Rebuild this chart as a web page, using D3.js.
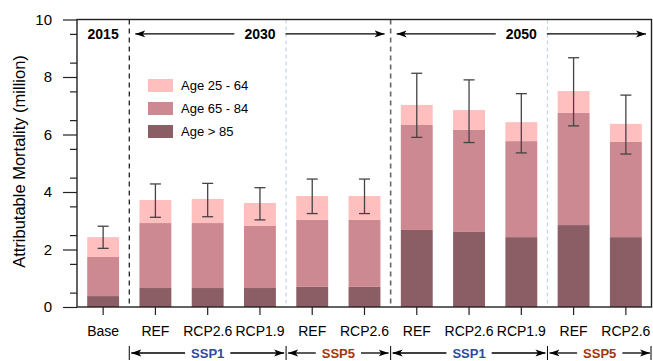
<!DOCTYPE html>
<html>
<head>
<meta charset="utf-8">
<script src="https://cdn.jsdelivr.net/npm/d3@7"></script>
<style>
  body { margin: 0; background: #fff; }
  svg { display: block; font-family: "Liberation Sans", Arial, sans-serif; }
</style>
</head>
<body>
<div id="chart"></div>
<script>
// bar labels, one per bar
let labels = ["Base", "REF", "RCP2.6", "RCP1.9", "REF", "RCP2.6", "REF", "RCP2.6", "RCP1.9", "REF", "RCP2.6"]
// stacked segments (million)
let age85 = [0.38, 0.66, 0.66, 0.66, 0.70, 0.70, 2.68, 2.61, 2.43, 2.85, 2.43]
let age65_84 = [1.36, 2.26, 2.26, 2.16, 2.33, 2.33, 3.65, 3.55, 3.34, 3.90, 3.31]
let age25_64 = [0.69, 0.80, 0.84, 0.80, 0.83, 0.83, 0.70, 0.69, 0.66, 0.76, 0.63]
// uncertainty range of the total
let errLow = [2.04, 3.12, 3.14, 3.03, 3.25, 3.25, 5.90, 5.72, 5.36, 6.30, 5.32]
let errHigh = [2.81, 4.28, 4.30, 4.15, 4.45, 4.45, 8.13, 7.90, 7.42, 8.67, 7.37]
// groups: [first bar, last bar, label]
let years = [[0, 0, "2015"], [1, 5, "2030"], [6, 10, "2050"]]
let ssps = [[1, 3, "SSP1"], [4, 5, "SSP5"], [6, 8, "SSP1"], [9, 10, "SSP5"]]
let legendNames = ["Age 25 - 64", "Age 65 - 84", "Age > 85"]

let colors = ["#8b5e66", "#cc8991", "#ffbfbf"] // >85, 65-84, 25-64
let sspColor = { "SSP1": "#2e4b9c", "SSP5": "#a0360f" }

let width = 653, height = 361
let margin = { left: 77, top: 19.5, right: 1, bottom: 54 }
let x0 = margin.left, x1 = width - margin.right
let yTop = margin.top, yBot = height - margin.bottom

let svg = d3.select("#chart").append("svg")
  .attr("width", width).attr("height", height)

let idx = d3.range(labels.length)
let x = d3.scaleBand().domain(idx).range([x0, x1]).paddingInner(0.39).paddingOuter(0.195)
let step = (x1 - x0) / labels.length
let y = d3.scaleLinear().domain([0, 10]).range([yBot, yTop])

let rows = idx.map(i => ({ i: i, a: age85[i], b: age65_84[i], c: age25_64[i] }))
let stack = d3.stack().keys(["a", "b", "c"])(rows)

// bars
svg.append("g").selectAll("g")
  .data(stack).join("g")
  .attr("fill", (d, k) => colors[k])
  .selectAll("rect")
  .data(d => d).join("rect")
  .attr("x", d => x(d.data.i))
  .attr("width", x.bandwidth())
  .attr("y", d => y(d[1]))
  .attr("height", d => y(d[0]) - y(d[1]))

// error bars
let eb = svg.append("g").attr("stroke", "#444").attr("stroke-width", 1.3)
idx.forEach(i => {
  let cx = x(i) + x.bandwidth() / 2
  eb.append("line").attr("x1", cx).attr("x2", cx).attr("y1", y(errLow[i])).attr("y2", y(errHigh[i]))
  eb.append("line").attr("x1", cx - 5.5).attr("x2", cx + 5.5).attr("y1", y(errLow[i])).attr("y2", y(errLow[i]))
  eb.append("line").attr("x1", cx - 5.5).attr("x2", cx + 5.5).attr("y1", y(errHigh[i])).attr("y2", y(errHigh[i]))
})

// divider lines
function boundary(i) { return x0 + step * i }
let dividers = [
  { at: 1, color: "#111", w: 1.2, dash: "5,4" },
  { at: 4, color: "#c3d5f2", w: 1.2, dash: "4,3" },
  { at: 6, color: "#666", w: 1.6, dash: "5,4" },
  { at: 9, color: "#c3d5f2", w: 1.2, dash: "4,3" }
]
svg.append("g").selectAll("line").data(dividers).join("line")
  .attr("x1", d => boundary(d.at)).attr("x2", d => boundary(d.at))
  .attr("y1", yTop).attr("y2", yBot)
  .attr("stroke", d => d.color).attr("stroke-width", d => d.w)
  .attr("stroke-dasharray", d => d.dash)

// axes
let yAxis = svg.append("g").attr("transform", "translate(" + x0 + ",0)")
  .call(d3.axisLeft(y).tickValues(d3.range(0, 10.01, 2)).tickSize(14).tickPadding(11).tickFormat(d3.format("d")))
yAxis.selectAll("text").attr("font-size", 15).attr("fill", "#000").attr("font-family", "Liberation Sans, Arial, sans-serif")
yAxis.select(".domain").remove()
svg.append("g").attr("transform", "translate(" + x0 + ",0)")
  .call(d3.axisLeft(y).tickValues(d3.range(0.5, 10, 1)).tickSize(7).tickFormat(""))
  .select(".domain").remove()
svg.selectAll(".tick line").attr("stroke", "#222").attr("stroke-width", 1.2)

let xAxis = svg.append("g").attr("transform", "translate(0," + yBot + ")")
  .call(d3.axisBottom(x).tickSize(8).tickPadding(11.5).tickFormat(i => labels[i]))
xAxis.select(".domain").remove()
xAxis.selectAll("text").attr("font-size", 14).attr("fill", "#000").attr("font-family", "Liberation Sans, Arial, sans-serif")
xAxis.selectAll(".tick line").attr("stroke", "#222").attr("stroke-width", 1.2)

// frame
svg.append("rect").attr("x", x0).attr("y", yTop).attr("width", x1 - x0 - 0.5).attr("height", yBot - yTop)
  .attr("fill", "none").attr("stroke", "#222").attr("stroke-width", 1.4)

// arrowheads
let defs = svg.append("defs")
defs.append("marker").attr("id", "head").attr("viewBox", "0 0 10 10")
  .attr("refX", 10).attr("refY", 5).attr("markerWidth", 10).attr("markerHeight", 10)
  .attr("markerUnits", "userSpaceOnUse").attr("orient", "auto-start-reverse")
  .append("path").attr("d", "M0,1.5 L10,5 L0,8.5 L2.5,5 Z").attr("fill", "#000")

function groupArrow(g, xa, xb, yy, label, opts) {
  let mid = (xa + xb) / 2
  let t = g.append("text").attr("x", mid).attr("y", yy).attr("dy", "0.35em")
    .attr("text-anchor", "middle").attr("font-weight", "bold").attr("font-size", opts.size)
    .attr("fill", opts.color).text(label)
  let tw = t.node().getComputedTextLength()
  let gap = opts.gap
  if (mid - tw / 2 - gap > xa + opts.inset + 12) {
    g.append("line").attr("x1", mid - tw / 2 - gap).attr("x2", xa + opts.inset).attr("y1", yy).attr("y2", yy)
      .attr("stroke", "#000").attr("stroke-width", 1.3).attr("marker-end", "url(#head)")
    g.append("line").attr("x1", mid + tw / 2 + gap).attr("x2", xb - opts.inset).attr("y1", yy).attr("y2", yy)
      .attr("stroke", "#000").attr("stroke-width", 1.3).attr("marker-end", "url(#head)")
  }
}

// year labels on top
let topY = y(9.5)
let yg = svg.append("g")
years.forEach(d => {
  groupArrow(yg, boundary(d[0]), boundary(d[1] + 1), topY, d[2], { size: 14, color: "#000", gap: 10, inset: 6 })
})

// SSP labels below
let botY = 353
let sg = svg.append("g")
ssps.forEach(d => {
  groupArrow(sg, boundary(d[0]), boundary(d[1] + 1), botY, d[2], { size: 13, color: sspColor[d[2]], gap: 6, inset: 2 })
})
let ends = [1, 4, 6, 9, 11]
sg.selectAll("line.end").data(ends).join("line").attr("class", "end")
  .attr("x1", d => boundary(d) - (d == 11 ? 1 : 0)).attr("x2", d => boundary(d) - (d == 11 ? 1 : 0))
  .attr("y1", botY - 7).attr("y2", botY + 7)
  .attr("stroke", "#000").attr("stroke-width", 1)

// y label
svg.append("text")
  .attr("transform", "translate(19,161.5) rotate(-90)")
  .attr("text-anchor", "middle").attr("dy", "0.35em")
  .attr("font-size", 16.5).text("Attributable Mortality (million)")

// legend
let lg = svg.append("g").attr("transform", "translate(148,79)")
legendNames.forEach((n, k) => {
  lg.append("rect").attr("x", 0).attr("y", k * 23).attr("width", 25).attr("height", 13).attr("fill", colors[2 - k])
  lg.append("text").attr("x", 33).attr("y", k * 23 + 6.5).attr("dy", "0.35em").attr("font-size", 13).text(n)
})
</script>
</body>
</html>
